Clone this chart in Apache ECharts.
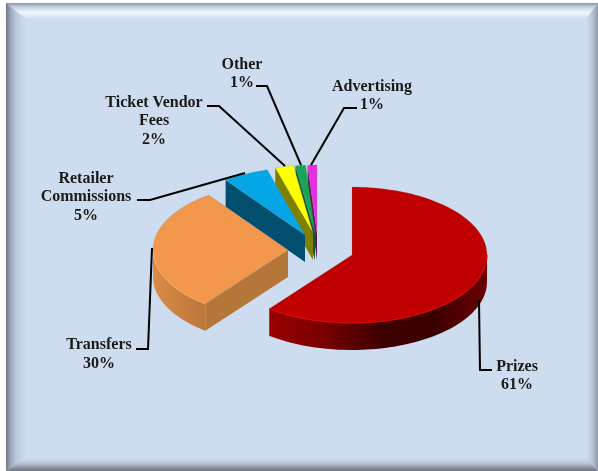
<!DOCTYPE html>
<html><head><meta charset="utf-8">
<style>html,body{margin:0;padding:0;background:#fff}#c{width:598px;height:471px}</style>
<script src="https://cdn.jsdelivr.net/npm/echarts@6/dist/echarts.min.js"></script></head>
<body><div id="c"></div>
<script>
const categories = ['Prizes','Transfers','Retailer\nCommissions','Ticket Vendor\nFees','Other','Advertising'];
const values = [60.5,29.5,5.49,2.2,1.2,1.11];
const apexX = [352,288,305,313,315,317];
const apexY = [255,250,235,233,233,233];
const topColors = ['#C00000','#F2974B','#05A6E6','#FFFF00','#17A556','#E62FE0'];
const wallColors = ['#7A0000','#B5763A','#014E6E','#7F7F00','#0B5A30','#5A1A5E'];
const labelX = [517,99,86,154,242,372];
const labelY = [376,354.5,197,121,74,96];
const leaders = [
 [[479,300],[480,370],[492,370]],
 [[152,248],[148,349],[136,349]],
 [[245,173],[150,200],[137,200]],
 [[285,166],[219,106],[207,106]],
 [[301,165],[267,86],[256,86]],
 [[311,165],[344,108],[357,108]]
];
const RX=135, RY=68, DEPTH=27;
const total = values.reduce((a,b)=>a+b,0);
let acc=0;
const rows = values.map((v,i)=>{const r=[v,acc,i];acc+=v;return r;}).reverse();

function pt(i,deg,dy){const t=deg*Math.PI/180;return [apexX[i]+Math.sin(t)*RX, apexY[i]-Math.cos(t)*RY+(dy||0)];}
function arc(i,a,b,dy){const out=[];const n=Math.max(2,Math.ceil(Math.abs(b-a)/2));for(let k=0;k<=n;k++)out.push(pt(i,a+(b-a)*k/n,dy));return out;}
function grad(x,y,x2,y2,stops){return {type:'linear',x,y,x2,y2,colorStops:stops.map((c,k)=>({offset:stops.length>1?k/(stops.length-1):0,color:c}))};}

const rimFill = {
 0: grad(0,0,1,0,['#9A0000','#7A0000','#400000','#3A0000','#6A0000']),
 1: grad(0,0,1,0,['#DB8C46','#C98040','#BC783A'])
};

function renderItem(params,api){
 const v=api.value(0), st=api.value(1), i=api.value(2);
 const s=st/total*360, e=(st+v)/total*360, mid=(s+e)/2;
 const kids=[];
 const A=[apexX[i],apexY[i]];
 const m=pt(i,mid);
 [s,e].forEach(th=>{
   const P=pt(i,th); let nx=-(P[1]-A[1]), ny=P[0]-A[0];
   if(nx*(m[0]-A[0])+ny*(m[1]-A[1])>0){nx=-nx;ny=-ny;}
   if(ny>0){
     kids.push({type:'polygon',shape:{points:[A,P,[P[0],P[1]+DEPTH],[A[0],A[1]+DEPTH]]},style:{fill:wallColors[i]}});
   }
 });
 const a=Math.max(s,90), b=Math.min(e,270);
 if(b>a){
   const pts=arc(i,a,b,0).concat(arc(i,b,a,DEPTH));
   kids.push({type:'polygon',shape:{points:pts},style:{fill:rimFill[i]||wallColors[i]}});
 }
 kids.push({type:'polygon',shape:{points:[A].concat(arc(i,s,e,0))},style:{fill:topColors[i],stroke:'rgba(120,120,120,0.35)',lineWidth:0.6}});
 if(b>a){
   kids.push({type:'polyline',shape:{points:arc(i,a,b,0)},style:{fill:'none',stroke:i===0?'#D40606':'#F8A862',lineWidth:1.2}});
 }
 return {type:'group',children:kids};
}

function renderLabels(params,api){
 const i=api.value(2);
 const line={type:'polyline',shape:{points:leaders[i]},style:{fill:'none',stroke:'#000',lineWidth:2}};
 const txt={type:'text',style:{x:labelX[i],y:labelY[i],text:categories[i]+'\n'+Math.round(api.value(0))+'%',
   align:'center',verticalAlign:'middle',lineHeight:18.5,fill:'#1a1a1a',
   font:'bold 16px "Liberation Serif"'}};
 return {type:'group',children:[line,txt]};
}

const L=6,T=3,R=598,B=471,base='#CEDCEF';
const chart=echarts.init(document.getElementById('c'),null,{renderer:'canvas'});
chart.setOption({
 animation:false,
 backgroundColor:'#fff',
 graphic:{elements:[
  {type:'rect',shape:{x:L,y:T,width:R-L,height:B-T},style:{fill:base},silent:true},
  {type:'polygon',shape:{points:[[L,T],[R,T],[R-12,T+16],[L+20,T+16]]},style:{fill:grad(0,0,0,1,['#8F949A','#B9C6D9','#D8E3F1','#EEF5FB','#E2EBF6',base])},silent:true},
  {type:'polygon',shape:{points:[[L,T],[L+20,T+16],[L+20,B-14],[L,B]]},style:{fill:grad(0,0,1,0,['#6F7680','#9FACBE','#BAC7DA','#C6D3E6',base])},silent:true},
  {type:'polygon',shape:{points:[[L+20,B-14],[R-12,B-14],[R,B],[L,B]]},style:{fill:grad(0,0,0,1,[base,'#C6D3E5','#B3BFD0','#8E98A5','#6E7680'])},silent:true},
  {type:'polygon',shape:{points:[[R-12,T+16],[R,T],[R,B],[R-12,B-14]]},style:{fill:grad(0,0,1,0,[base,'#C3D0E2','#ADB9CA','#8E98A5'])},silent:true}
 ]},
 series:[
  {type:'custom',coordinateSystem:'none',renderItem:renderItem,data:rows,silent:true,z:2},
  {type:'custom',coordinateSystem:'none',renderItem:renderLabels,data:rows,silent:true,z:3}
 ]
});
</script></body></html>
